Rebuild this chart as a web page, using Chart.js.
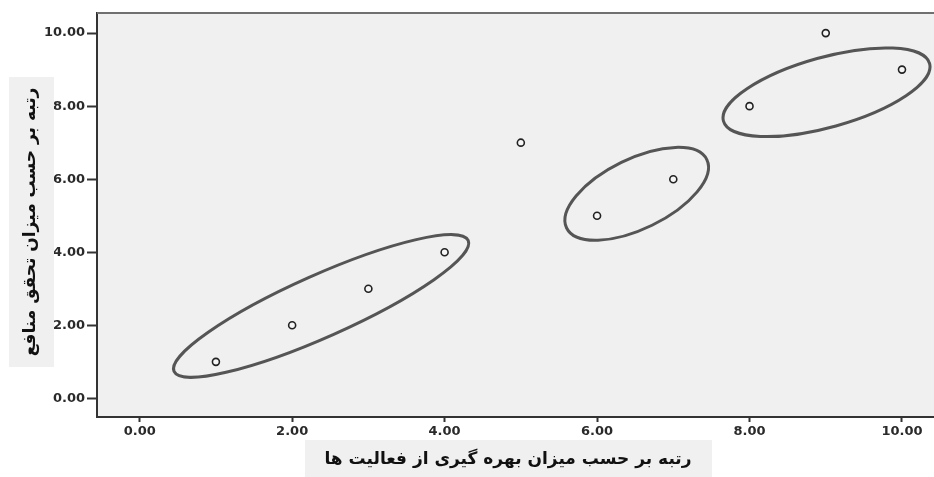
<!DOCTYPE html>
<html>
<head>
<meta charset="utf-8">
<script src="https://cdn.jsdelivr.net/npm/chart.js@4"></script>
<style>
  body { margin: 0; background: #fff; }
</style>
</head>
<body>
<canvas id="rankChart" width="934" height="477"></canvas>
<script>
// rank data
var activityRank = [1, 2, 3, 4, 5, 6, 7, 8, 9, 10];
var benefitRank  = [1, 2, 3, 4, 7, 5, 6, 8, 10, 9];
var tickValues = [0, 2, 4, 6, 8, 10];
var xTitle = 'رتبه بر حسب میزان بهره گیری از فعالیت ها';
var yTitle = 'رتبه بر حسب میزان تحقق منافع';

// centres of the circled groups, in rank units
var groupCenterX = [2.38, 6.52, 9.01];
var groupCenterY = [2.53, 5.60, 8.38];

// ellipse shape (pixels, degrees)
var ringRx = [161, 78, 107];
var ringRy = [31, 35, 35];
var ringTilt = [24, 26, 15.6];

var points = activityRank.map(function (x, i) {
  return { x: x, y: benefitRank[i] };
});

var tickFont = { family: 'DejaVu Sans', size: 13, weight: 'bold' };

// grey plot background + top frame line
const plotFrame = {
  id: 'plotFrame',
  beforeDraw(chart) {
    const { ctx, chartArea } = chart;
    ctx.save();
    ctx.fillStyle = '#f0f0f0';
    ctx.fillRect(chartArea.left, chartArea.top, chartArea.right - chartArea.left, chartArea.bottom - chartArea.top);
    ctx.restore();
  },
  afterDraw(chart) {
    const { ctx, chartArea } = chart;
    ctx.save();
    ctx.strokeStyle = '#707070';
    ctx.lineWidth = 2;
    ctx.beginPath();
    ctx.moveTo(chartArea.left, chartArea.top);
    ctx.lineTo(chartArea.right, chartArea.top);
    ctx.stroke();
    ctx.restore();
  }
};

// the hand drawn rings round the groups
const groupRings = {
  id: 'groupRings',
  afterDatasetsDraw(chart) {
    const { ctx } = chart;
    const xs = chart.scales.x, ys = chart.scales.y;
    ctx.save();
    ctx.strokeStyle = '#555';
    ctx.lineWidth = 3;
    for (var i = 0; i < groupCenterX.length; i++) {
      var px = xs.getPixelForValue(groupCenterX[i]);
      var py = ys.getPixelForValue(groupCenterY[i]);
      ctx.beginPath();
      ctx.ellipse(px, py, ringRx[i], ringRy[i], -ringTilt[i] * Math.PI / 180, 0, 2 * Math.PI);
      ctx.stroke();
    }
    ctx.restore();
  }
};

// axis titles on light grey boxes
const axisTitles = {
  id: 'axisTitles',
  afterDraw(chart) {
    const { ctx } = chart;
    ctx.save();
    ctx.fillStyle = '#f0f0f0';
    ctx.fillRect(305, 440, 407, 37);
    ctx.fillRect(9, 77, 45, 290);

    ctx.fillStyle = '#111';
    ctx.font = 'bold 17px "DejaVu Sans"';
    ctx.direction = 'rtl';
    ctx.textAlign = 'center';
    ctx.textBaseline = 'middle';
    ctx.fillText(xTitle, 508, 460);

    ctx.translate(31, 222);
    ctx.rotate(-Math.PI / 2);
    ctx.fillText(yTitle, 0, 0);
    ctx.restore();
  }
};

var ctx = document.getElementById('rankChart').getContext('2d');

var rankChart = new Chart(ctx, {
  type: 'scatter',
  data: {
    datasets: [{
      data: points,
      pointRadius: 3.5,
      pointBorderWidth: 1.6,
      pointBorderColor: '#222',
      pointBackgroundColor: '#f6f6f6'
    }]
  },
  options: {
    responsive: false,
    animation: false,
    layout: { autoPadding: false, padding: { top: 13, left: 0, right: 0, bottom: 0 } },
    plugins: {
      legend: { display: false },
      tooltip: { enabled: false }
    },
    scales: {
      x: {
        type: 'linear',
        min: -0.56,
        max: 10.42,
        afterBuildTicks: function (s) { s.ticks = tickValues.map(function (v) { return { value: v }; }); },
        afterFit: function (s) { s.height = 60; s.paddingLeft = 0; s.paddingRight = 0; },
        ticks: {
          callback: function (v) { return v.toFixed(2); },
          font: tickFont,
          color: '#2a2a2a',
          padding: 2,
          maxRotation: 0,
          autoSkip: false
        },
        grid: { drawOnChartArea: false, drawTicks: true, tickLength: 5, tickWidth: 2, color: '#333' },
        border: { color: '#333', width: 2 }
      },
      y: {
        type: 'linear',
        min: -0.51,
        max: 10.55,
        afterBuildTicks: function (s) { s.ticks = tickValues.map(function (v) { return { value: v }; }); },
        afterFit: function (s) { s.width = 97; s.paddingTop = 0; s.paddingBottom = 0; },
        ticks: {
          callback: function (v) { return v.toFixed(2); },
          font: tickFont,
          color: '#2a2a2a',
          padding: 2,
          autoSkip: false
        },
        grid: { drawOnChartArea: false, drawTicks: true, tickLength: 10, tickWidth: 2, color: '#333' },
        border: { color: '#333', width: 2 }
      }
    }
  },
  plugins: [plotFrame, groupRings, axisTitles]
});
</script>
</body>
</html>
